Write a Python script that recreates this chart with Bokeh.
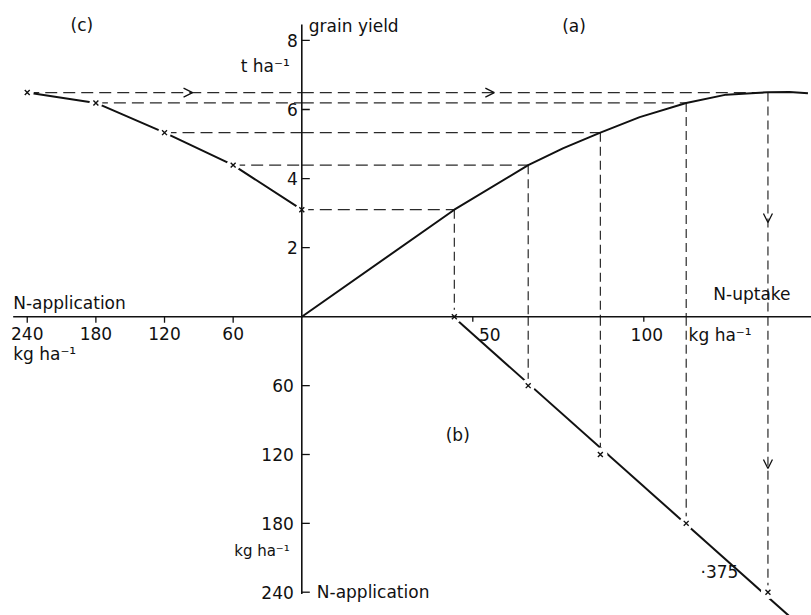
import math
from bokeh.plotting import figure
from bokeh.models import Range1d, Arrow, OpenHead
from bokeh.core.properties import value
from bokeh.embed import file_html
from bokeh.resources import INLINE

# ---------------- data ----------------
# N application rates (kg N/ha) and the matching observations
n_applied = [0, 60, 120, 180, 240]
n_uptake = [44.6, 66.2, 87.3, 112.4, 136.3]        # kg N/ha taken up
grain_yield = [3.10, 4.39, 5.33, 6.19, 6.49]       # t/ha

# (a) grain yield as a function of N uptake
uptake_curve = [0, 44.6, 66.2, 76.5, 87.3, 98.8, 112.4, 124.1, 136.3, 142.6, 148.0]
yield_curve = [0, 3.10, 4.39, 4.88, 5.33, 5.78, 6.19, 6.43, 6.50, 6.51, 6.47]

# (b) fitted recovery line: N uptake against N application
recovery_uptake = [44.3, 142.9]
recovery_applied = [0, 261.8]
recovery_label = "·375"

# tick values
yield_ticks = [2, 4, 6, 8]
applied_ticks = [60, 120, 180, 240]
uptake_ticks = [50, 100]

# ---------------- layout ----------------
W, H = 811, 615
OX, OY = 301.3, 316.3          # where the four quadrants meet (pixels)
PX_UPTAKE = 3.42               # pixels per kg N uptake
PX_YIELD = 34.55               # pixels per t/ha
PX_APPL_X = 1.144              # pixels per kg N applied (leftwards)
PX_APPL_Y = 1.1475             # pixels per kg N applied (downwards)

p = figure(width=W, height=H,
           x_range=Range1d(-OX / PX_UPTAKE, (W - OX) / PX_UPTAKE),
           y_range=Range1d(-(H - OY) / PX_YIELD, OY / PX_YIELD),
           x_axis_location=None, y_axis_location=None,
           output_backend="svg", toolbar_location=None, min_border=0)
p.extra_x_ranges = {"appl": Range1d(OX / PX_APPL_X, -(W - OX) / PX_APPL_X)}
p.extra_y_ranges = {"appl": Range1d((H - OY) / PX_APPL_Y, -OY / PX_APPL_Y)}
p.xgrid.grid_line_color = None
p.ygrid.grid_line_color = None
p.outline_line_color = None
p.background_fill_color = "white"
p.border_fill_color = "white"

INK = "#111111"
DASH_INK = "#2a2a2a"
FONT = value("DejaVu Sans")

# ---------------- dashed guide lines ----------------
zeros = [0] * len(n_applied)
# horizontal: from (c) across the yield axis to the curve in (a)
p.segment(x0=n_applied, y0=grain_yield, x1=zeros, y1=grain_yield,
          x_range_name="appl", line_dash="12 6", line_width=1.2, line_color=DASH_INK)
p.segment(x0=zeros, y0=grain_yield, x1=n_uptake, y1=grain_yield,
          line_dash="12 6", line_width=1.2, line_color=DASH_INK)
# vertical: from the curve in (a) down to the recovery line in (b)
p.segment(x0=n_uptake, y0=grain_yield, x1=n_uptake, y1=zeros,
          line_dash="9 5", line_width=1.2, line_color=DASH_INK)
p.segment(x0=n_uptake, y0=zeros, x1=n_uptake, y1=n_applied,
          y_range_name="appl", line_dash="9 5", line_width=1.2, line_color=DASH_INK)

# ---------------- response curves ----------------
p.line(uptake_curve, yield_curve, line_width=2, line_color=INK)
p.line(recovery_uptake, recovery_applied, y_range_name="appl",
       line_width=2, line_color=INK)
p.line(n_applied, grain_yield, x_range_name="appl", line_width=2, line_color=INK)

# small breaks in the lines around the plotted points
p.scatter(n_uptake, n_applied, y_range_name="appl", marker="circle", size=14,
          fill_color="white", line_color=None)
p.scatter(n_applied, grain_yield, x_range_name="appl", marker="circle", size=13,
          fill_color="white", line_color=None)

# ---------------- axes ----------------
AXIS_LEFT_END = 252.3     # kg applied, left end of the horizontal axis
AXIS_TOP_END = 8.46       # t/ha, top of the vertical axis
AXIS_BOTTOM_END = 241.5   # kg applied, bottom of the vertical axis
p.segment(x0=[AXIS_LEFT_END], y0=[0], x1=[0], y1=[0], x_range_name="appl",
          line_width=1.6, line_color=INK)
p.segment(x0=[0], y0=[0], x1=[(W - OX) / PX_UPTAKE], y1=[0],
          line_width=1.6, line_color=INK)
p.segment(x0=[0], y0=[0], x1=[0], y1=[AXIS_TOP_END], line_width=1.6, line_color=INK)
p.segment(x0=[0], y0=[0], x1=[0], y1=[AXIS_BOTTOM_END], y_range_name="appl",
          line_width=1.6, line_color=INK)

# tick marks
p.ray(x=[0] * len(yield_ticks), y=yield_ticks, angle=0, length=8,
      length_units="screen", line_width=1.3, line_color=INK)
p.ray(x=[0] * len(applied_ticks), y=applied_ticks, y_range_name="appl", angle=0,
      length=8, length_units="screen", line_width=1.3, line_color=INK)
p.ray(x=applied_ticks, y=[0] * len(applied_ticks), x_range_name="appl",
      angle=-math.pi / 2, length=6, length_units="screen", line_width=1.3, line_color=INK)
p.ray(x=uptake_ticks, y=[0] * len(uptake_ticks), angle=-math.pi / 2, length=5,
      length_units="screen", line_width=1.3, line_color=INK)

# ---------------- point markers ----------------
p.scatter(n_uptake, n_applied, y_range_name="appl", marker="x", size=7,
          line_width=1.4, line_color=INK)
p.scatter(n_applied, grain_yield, x_range_name="appl", marker="x", size=7,
          line_width=1.4, line_color=INK)

# ---------------- arrow heads on the guide lines ----------------
head = dict(size=9, line_width=1.3, line_color=INK)
p.add_layout(Arrow(end=OpenHead(**head), x_start=104, y_start=grain_yield[-1],
                   x_end=95.5, y_end=grain_yield[-1], x_range_name="appl",
                   line_alpha=0))
p.add_layout(Arrow(end=OpenHead(**head), x_start=50, y_start=grain_yield[-1],
                   x_end=56.3, y_end=grain_yield[-1], line_alpha=0))
p.add_layout(Arrow(end=OpenHead(**head), x_start=n_uptake[-1], y_start=3.2,
                   x_end=n_uptake[-1], y_end=2.73, line_alpha=0))
p.add_layout(Arrow(end=OpenHead(**head), x_start=n_uptake[-1], y_start=125,
                   x_end=n_uptake[-1], y_end=132.2, y_range_name="appl",
                   line_alpha=0))

# ---------------- text ----------------
txt = dict(text_font=FONT, text_color=INK, text_baseline="middle")
NUM = "17px"
WORD = "17px"

# panel letters
p.text(x=[192.3], y=[8.46], text=["(c)"], x_range_name="appl",
       text_align="center", text_font_size=WORD, **txt)
p.text(x=[79.6], y=[8.42], text=["(a)"], text_align="center",
       text_font_size=WORD, **txt)
p.text(x=[45.6], y=[102.7], text=["(b)"], y_range_name="appl",
       text_align="center", text_font_size=WORD, **txt)

# grain yield axis
p.text(x=[0], y=[8.42], text=["grain yield"], x_offset=7, text_align="left",
       text_font_size=WORD, **txt)
p.text(x=[0], y=[7.25], text=["t ha⁻¹"], x_offset=-12, text_align="right",
       text_font_size=WORD, **txt)
p.text(x=[0] * len(yield_ticks), y=yield_ticks, text=[str(t) for t in yield_ticks],
       x_offset=-4, text_align="right", text_font_size=NUM, **txt)

# N application, horizontal (c)
p.text(x=[AXIS_LEFT_END], y=[0.385], text=["N-application"], x_range_name="appl",
       text_align="left", text_font_size=WORD, **txt)
p.text(x=applied_ticks, y=[0] * len(applied_ticks), text=[str(t) for t in applied_ticks],
       x_range_name="appl", y_offset=17, text_align="center", text_font_size=NUM, **txt)
p.text(x=[AXIS_LEFT_END], y=[0], text=["kg ha⁻¹"], x_range_name="appl",
       y_offset=37, text_align="left", text_font_size=WORD, **txt)

# N uptake (a)/(b)
p.text(x=[142.9], y=[0.67], text=["N-uptake"], text_align="right",
       text_font_size=WORD, **txt)
p.text(x=uptake_ticks, y=[0] * len(uptake_ticks), text=[str(t) for t in uptake_ticks],
       x_offset=[17, 3], y_offset=18, text_align="center", text_font_size=NUM, **txt)
p.text(x=[113.1], y=[0], text=["kg ha⁻¹"], y_offset=18, text_align="left",
       text_font_size=WORD, **txt)

# N application, vertical (b)
p.text(x=[0] * len(applied_ticks), y=applied_ticks, text=[str(t) for t in applied_ticks],
       y_range_name="appl", x_offset=-8, text_align="right", text_font_size=NUM, **txt)
p.text(x=[0], y=[203.7], text=["kg ha⁻¹"], y_range_name="appl", x_offset=-12,
       text_align="right", text_font_size="15px", **txt)
p.text(x=[0], y=[applied_ticks[-1]], text=["N-application"], y_range_name="appl",
       x_offset=15, text_align="left", text_font_size=WORD, **txt)

# slope of the recovery line
p.text(x=[116.6], y=[222.6], text=[recovery_label], y_range_name="appl",
       text_align="left", text_font_size=WORD, **txt)

open("out.html", "w").write(file_html(p, INLINE))
